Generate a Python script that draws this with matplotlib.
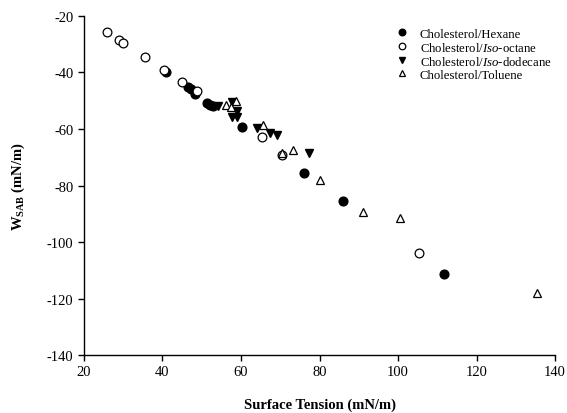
import numpy as np
import matplotlib.pyplot as plt

plt.rcParams['font.family'] = ['Liberation Serif', 'DejaVu Serif']
plt.rcParams['mathtext.fontset'] = 'custom'
plt.rcParams['mathtext.rm'] = 'Liberation Serif'
plt.rcParams['mathtext.it'] = 'Liberation Serif:italic'
plt.rcParams['mathtext.bf'] = 'Liberation Serif:bold'
plt.rcParams['axes.unicode_minus'] = False

# surface tension (x) and W_SAB (y)
hex_x = [40.8, 46.6, 47.2, 48.3, 51.3, 52.1, 52.8, 60.3, 76.1, 85.9, 111.6]
hex_y = [-39.8, -45.2, -45.8, -47.5, -50.7, -51.5, -52.0, -59.4, -75.6, -85.5, -111.3]

oct_x = [26.0, 29.0, 30.0, 35.5, 40.3, 44.9, 48.7, 65.3, 70.4, 105.4]
oct_y = [-25.6, -28.6, -29.4, -34.6, -39.1, -43.4, -46.7, -62.9, -69.1, -104.0]

dod_x = [54.2, 57.6, 58.9, 57.8, 59.1, 64.2, 67.5, 69.2, 77.4]
dod_y = [-52.0, -50.5, -53.5, -55.6, -55.9, -59.8, -61.5, -62.1, -68.6]

tol_x = [56.3, 57.4, 58.7, 65.5, 70.4, 73.3, 80.2, 91.1, 100.6, 135.3]
tol_y = [-51.5, -52.3, -50.0, -58.5, -68.6, -67.3, -77.9, -89.4, -91.6, -118.2]

fig = plt.figure(figsize=(5.67, 4.14), dpi=100)
ax = fig.add_axes([0.148, 0.140, 0.831, 0.819])

ms = 6.3
ax.plot(hex_x, hex_y, 'o', ms=ms, mfc='black', mec='black', label='Cholesterol/Hexane')
ax.plot(oct_x, oct_y, 'o', ms=ms, mfc='white', mec='black', mew=0.9, label='Cholesterol/$\\it{Iso}$-octane')
ax.plot(dod_x, dod_y, 'v', ms=ms, mfc='black', mec='black', label='Cholesterol/$\\it{Iso}$-dodecane')
ax.plot(tol_x, tol_y, '^', ms=ms, mfc='white', mec='black', mew=0.9, label='Cholesterol/Toluene')

ax.set_xlim(20, 140)
ax.set_ylim(-140, -20)
ax.set_xticks(np.arange(20, 141, 20))
ax.set_yticks(np.arange(-140, -19, 20))
ax.tick_params(labelsize=10.5, direction='out', length=4, width=1)
for s in ['top', 'right']:
    ax.spines[s].set_visible(False)
for s in ['left', 'bottom']:
    ax.spines[s].set_linewidth(1)

ax.set_xlabel('Surface Tension (mN/m)', fontsize=10.5, fontweight='bold', labelpad=14)
ax.set_ylabel('$\\mathbf{W_{SAB}}$ (mN/m)', fontsize=10.5, fontweight='bold', labelpad=14)

ax.legend(loc='upper right', bbox_to_anchor=(1.004, 0.981), frameon=False, fontsize=9.2,
          handletextpad=0.5, handlelength=1.8, labelspacing=0.08, borderaxespad=0,
          markerscale=0.75)

plt.savefig('out.png', dpi=100)
